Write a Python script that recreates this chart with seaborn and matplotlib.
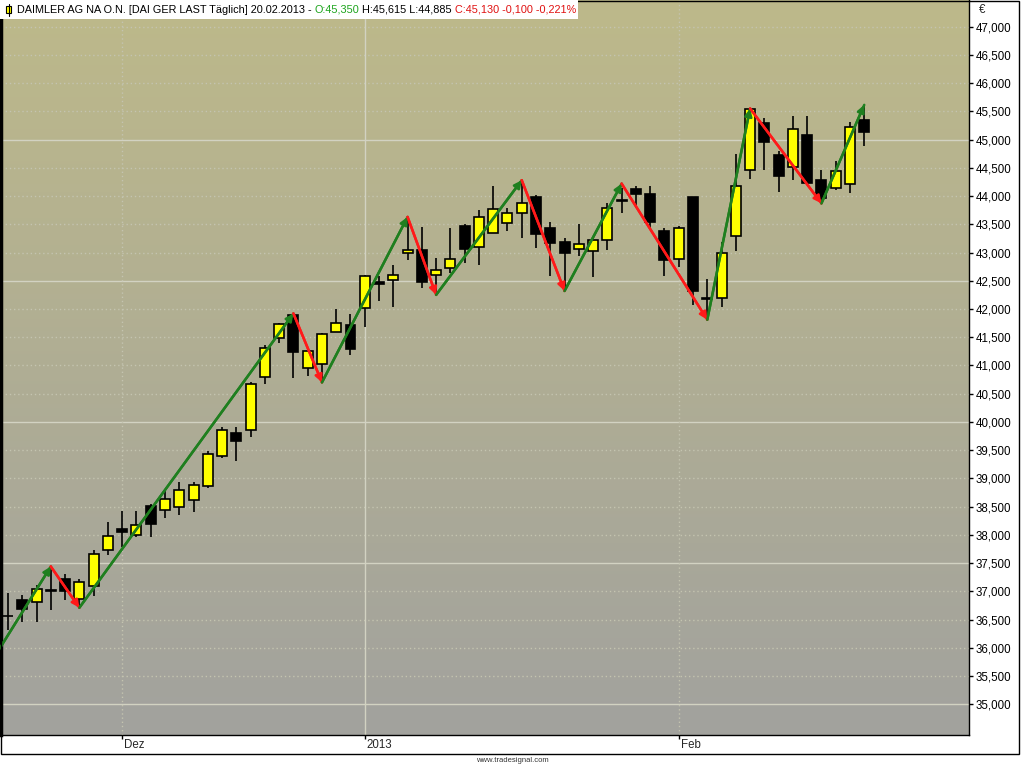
import numpy as np
import pandas as pd
import matplotlib
matplotlib.use("Agg")
import matplotlib.pyplot as plt
from matplotlib.patches import Rectangle
import seaborn as sns

sns.set_theme(style="white")
plt.rcParams['font.family'] = ['Liberation Sans', 'DejaVu Sans']

# daily OHLC, DAI GER, 21.11.2012 .. 20.02.2013
opens = [36.57, 36.85, 36.81, 37.02, 37.22, 36.86, 37.09, 37.73, 38.10, 37.99,
         38.51, 38.44, 38.49, 38.61, 38.87, 39.40, 39.80, 39.86, 40.79, 41.48,
         41.89, 40.95, 41.02, 41.60, 41.72, 42.01, 42.47, 42.51, 42.99, 43.04,
         42.60, 42.72, 43.47, 43.09, 43.34, 43.52, 43.70, 43.98, 43.43, 43.18,
         43.06, 43.03, 43.23, 43.92, 44.13, 44.03, 43.38, 42.88, 43.98, 42.19,
         42.19, 43.29, 44.46, 45.29, 44.73, 44.51, 45.08, 44.28, 44.14, 44.21,
         45.35]
highs = [36.97, 36.94, 37.11, 37.44, 37.31, 37.22, 37.73, 38.23, 38.43, 38.43,
         38.55, 38.81, 38.94, 38.94, 39.49, 39.91, 39.91, 40.70, 41.36, 41.75,
         41.92, 41.27, 41.57, 42.00, 41.91, 42.60, 42.58, 42.78, 43.63, 43.46,
         42.90, 43.43, 43.50, 43.75, 44.17, 43.78, 44.28, 44.02, 43.54, 43.25,
         43.51, 43.25, 43.87, 44.15, 44.17, 44.18, 43.43, 43.47, 43.98, 42.54,
         43.19, 44.75, 45.55, 45.38, 44.79, 45.42, 45.42, 44.46, 44.62, 45.31,
         45.615]
lows = [36.32, 36.46, 36.46, 36.67, 36.85, 36.71, 36.91, 37.64, 37.79, 37.96,
        37.96, 38.29, 38.36, 38.41, 38.83, 39.36, 39.30, 39.74, 40.68, 41.40,
        40.78, 40.81, 40.70, 41.60, 41.19, 41.69, 42.15, 42.04, 42.87, 42.37,
        42.25, 42.63, 42.81, 42.78, 43.34, 43.38, 43.25, 43.08, 42.58, 42.32,
        42.93, 42.57, 43.04, 43.70, 43.78, 43.41, 42.58, 42.75, 42.07, 41.81,
        42.04, 43.03, 44.30, 44.46, 44.08, 44.28, 44.20, 43.87, 44.10, 44.05,
        44.885]
closes = [36.56, 36.69, 37.04, 37.01, 37.01, 37.16, 37.67, 37.98, 38.05, 38.17,
          38.20, 38.64, 38.79, 38.88, 39.44, 39.86, 39.66, 40.67, 41.31, 41.73,
          41.23, 41.26, 41.56, 41.75, 41.30, 42.58, 42.44, 42.61, 43.04, 42.48,
          42.69, 42.88, 43.06, 43.63, 43.77, 43.70, 43.87, 43.32, 43.17, 43.00,
          43.15, 43.23, 43.78, 43.91, 44.03, 43.54, 42.87, 43.43, 42.32, 42.18,
          43.00, 44.18, 45.54, 44.96, 44.36, 45.18, 44.23, 43.96, 44.44, 45.22,
          45.13]

# zigzag swing points (bar index, price)
zz_idx = [-1, 3, 5, 20, 22, 28, 30, 36, 39, 43, 49, 52, 57, 60]
zz_price = [35.82, 37.44, 36.71, 41.92, 40.70, 43.63, 42.25, 44.28, 42.32,
            44.22, 41.81, 45.55, 43.87, 45.615]

month_idx = [8, 25, 47]
month_labels = ['Dez', '2013', 'Feb']

W, H = 1024, 768
fig = plt.figure(figsize=(W / 100, H / 100), dpi=100)
fig.patch.set_facecolor('white')
ax = fig.add_axes([1 / W, (H - 735) / H, 968 / W, 735 / H])

ax.set_xlim(-0.49, 67.34)
ax.set_ylim(34.456, 47.472)

# gradient background
top = np.array([189, 185, 138]) / 255
bot = np.array([162, 162, 158]) / 255
t = np.linspace(0, 1, 256)[:, None]
grad = (top * (1 - t) + bot * t)[:, None, :].repeat(2, axis=1)
ax.imshow(grad, extent=[0, 1, 0, 1], transform=ax.transAxes, aspect='auto', zorder=0)

# grid
for lv in np.arange(35.0, 47.01, 0.5):
    if abs((lv - 35.0) % 2.5) < 1e-6:
        ax.axhline(lv, color='#d2d2c2', lw=1, zorder=1)
    else:
        ax.axhline(lv, color='#c4c4b0', lw=1, ls=(0, (1, 2)), zorder=1)
for mi, lab in zip(month_idx, month_labels):
    if lab.isdigit():
        ax.axvline(mi, color='#d2d2c2', lw=1, zorder=1)
    else:
        ax.axvline(mi, color='#c4c4b0', lw=1, ls=(0, (1, 2)), zorder=1)

# candles
df = pd.DataFrame({'o': opens, 'h': highs, 'l': lows, 'c': closes})
df['i'] = np.arange(len(df))
ax.vlines(df['i'], df['l'], df['h'], color='black', lw=1.2, zorder=3)
body_lo = df[['o', 'c']].min(axis=1)
body_h = (df['c'] - df['o']).abs().clip(lower=0.012)
fills = np.where(df['c'] >= df['o'], '#ffff00', '#000000')
ax.bar(df['i'], body_h, bottom=body_lo, width=0.7, color=fills,
       edgecolor='black', linewidth=1.2, zorder=4)

# zigzag arrows
seg = []
for k in range(len(zz_idx) - 1):
    d = 'up' if zz_price[k + 1] > zz_price[k] else 'down'
    seg.append({'seg': k, 'x': zz_idx[k], 'y': zz_price[k], 'dir': d})
    seg.append({'seg': k, 'x': zz_idx[k + 1], 'y': zz_price[k + 1], 'dir': d})
zz = pd.DataFrame(seg)
pal = {'up': '#1f7f1f', 'down': '#ff1a1a'}
sns.lineplot(data=zz, x='x', y='y', units='seg', hue='dir', palette=pal,
             estimator=None, legend=False, lw=1.8, ax=ax, zorder=5)
for k in range(len(zz_idx) - 1):
    d = 'up' if zz_price[k + 1] > zz_price[k] else 'down'
    ax.annotate('', xy=(zz_idx[k + 1], zz_price[k + 1]), xytext=(zz_idx[k], zz_price[k]),
                arrowprops=dict(arrowstyle='-|>', color=pal[d],
                                lw=1.8, mutation_scale=11, shrinkA=0, shrinkB=0),
                zorder=6)

# axes styling
ax.spines['top'].set_visible(False)
ax.spines['left'].set_linewidth(2.5)
for s in ['right', 'bottom']:
    ax.spines[s].set_linewidth(1)
for s in ax.spines.values():
    s.set_color('black')
ax.set_xlabel('')
ax.set_ylabel('')

ax.yaxis.tick_right()
yt = np.arange(35.0, 47.01, 0.5)
ax.set_yticks(yt)
ax.set_yticklabels([f'{v:.3f}'.replace('.', ',') for v in yt])
ax.tick_params(axis='y', which='both', right=True, left=False, direction='out',
               length=3, width=1, pad=2, labelsize=8.3, colors='black')

ax.set_xticks(month_idx)
ax.set_xticklabels([])
ax.tick_params(axis='x', bottom=True, direction='out', length=3, width=1, colors='black')
for mi, lab in zip(month_idx, month_labels):
    ax.annotate(lab, xy=(mi, 0), xycoords=('data', 'axes fraction'),
                xytext=(1.5, -3), textcoords='offset points',
                ha='left', va='top', fontsize=8.3)

ax.text(1.01, 0.994, '€', transform=ax.transAxes, ha='left', va='top', fontsize=8.3)

# frame around everything
fig.add_artist(Rectangle((0.5 / W, (H - 754) / H), 1018 / W, 754 / H - 0.5 / H,
                         transform=fig.transFigure, fill=False, ec='black', lw=1))
fig.text(0.5, (H - 761) / H, 'www.tradesignal.com', ha='center', va='center',
         fontsize=5.5, color='#333333')

# header box
fig.add_artist(Rectangle((0, (H - 19) / H), 578 / W, 19 / H, transform=fig.transFigure,
                         fc='white', ec='none', zorder=10))
fig.add_artist(Rectangle((6 / W, (H - 13) / H), 5 / W, 7 / H, transform=fig.transFigure,
                         fc='#ffff00', ec='black', lw=0.8, zorder=11))
fig.add_artist(plt.Line2D([8.5 / W, 8.5 / W], [(H - 16) / H, (H - 4) / H],
                          transform=fig.transFigure, color='black', lw=0.8, zorder=11))
parts = [('DAIMLER AG NA O.N. [DAI GER LAST Täglich] 20.02.2013 - ', 'black'),
         ('O:45,350', '#1aa31a'),
         (' H:45,615 L:44,885 ', 'black'),
         ('C:45,130 -0,100 -0,221%', '#e01010')]
renderer = fig.canvas.get_renderer()
xpos = 17
for txt, col in parts:
    tx = fig.text(xpos / W, (H - 10) / H, txt, ha='left', va='center',
                  fontsize=7.8, color=col, zorder=12)
    bb = tx.get_window_extent(renderer=renderer)
    xpos += bb.width

fig.savefig('out.png', dpi=100, facecolor='white')
